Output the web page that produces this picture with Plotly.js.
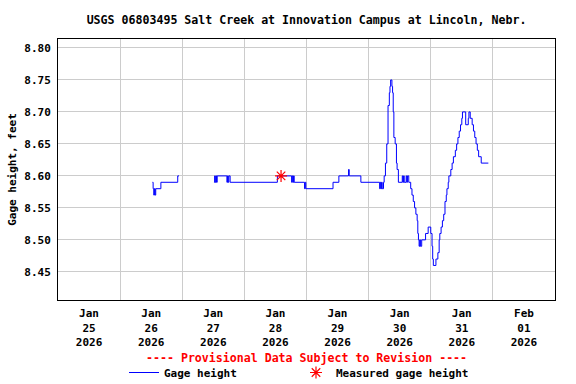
<!DOCTYPE html>
<html>
<head>
<meta charset="utf-8">
<script src="https://cdn.plot.ly/plotly-3.0.1.min.js"></script>
<style>
  html, body { margin: 0; padding: 0; background: #ffffff; }
  #chart { width: 576px; height: 384px; }
</style>
</head>
<body>
<div id="chart"></div>
<script>
// ---- Data ----
const chartTitle = "USGS 06803495 Salt Creek at Innovation Campus at Lincoln, Nebr.";
const yAxisTitle = "Gage height, feet";
const provisionalNote = "---- Provisional Data Subject to Revision ----";
const gageName = "Gage height";
const measuredName = "Measured gage height";

const xRange = ["2026-01-25 00:00", "2026-02-02 00:00"];
const yRange = [8.406, 8.814];
const yTickStart = 8.45;
const yTickStep = 0.05;

const gageTimes = [
  "2026-01-26 12:30","2026-01-26 12:45","2026-01-26 13:00","2026-01-26 13:15","2026-01-26 13:30",
  "2026-01-26 13:45","2026-01-26 15:45","2026-01-26 22:15","2026-01-26 22:45",
  "2026-01-27 05:00",
  "2026-01-27 12:15","2026-01-27 12:30","2026-01-27 12:45","2026-01-27 13:00","2026-01-27 13:15",
  "2026-01-27 13:30","2026-01-27 17:15","2026-01-27 17:30","2026-01-27 17:45","2026-01-27 18:00",
  "2026-01-27 18:30","2026-01-28 12:45","2026-01-28 18:15","2026-01-28 18:30","2026-01-28 18:45",
  "2026-01-28 19:00","2026-01-28 19:15","2026-01-28 23:15","2026-01-28 23:30","2026-01-28 23:45",
  "2026-01-29 10:15","2026-01-29 12:30","2026-01-29 16:15","2026-01-29 16:30","2026-01-29 21:00",
  "2026-01-30 04:15","2026-01-30 04:30","2026-01-30 04:45","2026-01-30 05:00","2026-01-30 05:15",
  "2026-01-30 05:45","2026-01-30 06:00","2026-01-30 06:30","2026-01-30 07:00","2026-01-30 07:30",
  "2026-01-30 08:00","2026-01-30 08:15","2026-01-30 08:30","2026-01-30 09:00","2026-01-30 09:15",
  "2026-01-30 09:30","2026-01-30 09:45","2026-01-30 10:15","2026-01-30 10:45","2026-01-30 11:00",
  "2026-01-30 11:30","2026-01-30 13:00","2026-01-30 13:15","2026-01-30 13:30","2026-01-30 13:45",
  "2026-01-30 14:30","2026-01-30 14:45","2026-01-30 15:00","2026-01-30 15:30","2026-01-30 16:15",
  "2026-01-30 16:45","2026-01-30 17:15","2026-01-30 17:45","2026-01-30 18:15","2026-01-30 18:45",
  "2026-01-30 19:00","2026-01-30 19:15","2026-01-30 19:30","2026-01-30 19:45","2026-01-30 20:00",
  "2026-01-30 20:30","2026-01-30 22:00","2026-01-30 23:00","2026-01-31 00:00","2026-01-31 00:30",
  "2026-01-31 00:45","2026-01-31 01:00","2026-01-31 02:00","2026-01-31 02:45","2026-01-31 03:15",
  "2026-01-31 03:30","2026-01-31 04:00","2026-01-31 04:30","2026-01-31 05:00","2026-01-31 05:30",
  "2026-01-31 06:00","2026-01-31 06:15","2026-01-31 06:45","2026-01-31 07:00","2026-01-31 07:45",
  "2026-01-31 08:15","2026-01-31 08:45","2026-01-31 09:30","2026-01-31 10:00","2026-01-31 10:30",
  "2026-01-31 11:00","2026-01-31 11:30","2026-01-31 12:00","2026-01-31 12:15","2026-01-31 13:30",
  "2026-01-31 14:30","2026-01-31 14:45","2026-01-31 15:15","2026-01-31 16:00","2026-01-31 16:30",
  "2026-01-31 17:00","2026-01-31 17:30","2026-01-31 18:00","2026-01-31 18:30","2026-01-31 19:30",
  "2026-01-31 22:15"
];
const gageValues = [
  8.59,8.58,8.57,8.58,8.57,
  8.58,8.59,8.60,8.60,
  null,
  8.59,8.60,8.59,8.60,8.59,
  8.60,8.59,8.60,8.59,8.60,
  8.59,8.60,8.59,8.60,8.59,
  8.60,8.59,8.58,8.59,8.58,
  8.59,8.60,8.61,8.60,8.59,
  8.58,8.59,8.58,8.59,8.58,
  8.59,8.60,8.62,8.65,8.71,
  8.73,8.74,8.75,8.74,8.73,
  8.70,8.66,8.65,8.62,8.61,
  8.59,8.60,8.59,8.60,8.59,
  8.60,8.59,8.60,8.59,8.58,
  8.57,8.56,8.55,8.54,8.53,
  8.51,8.50,8.49,8.50,8.49,
  8.50,8.51,8.52,8.51,8.49,
  8.47,8.46,8.47,8.48,8.50,
  8.51,8.52,8.53,8.54,8.56,
  8.57,8.58,8.59,8.60,8.61,
  8.62,8.63,8.64,8.65,8.66,
  8.67,8.68,8.69,8.70,8.68,
  8.69,8.70,8.69,8.68,8.67,
  8.66,8.65,8.64,8.63,8.62,
  8.62
];

const measuredTimes = ["2026-01-28 14:10"];
const measuredValues = [8.60];

// ---- Styles ----
const monoFont = "DejaVu Sans Mono, Liberation Mono, monospace";

const traces = [
  {
    type: "scatter",
    mode: "lines",
    name: gageName,
    x: gageTimes,
    y: gageValues,
    connectgaps: false,
    line: { color: "#0000ff", width: 1, shape: "hv" },
    hoverinfo: "skip"
  },
  {
    type: "scatter",
    mode: "markers",
    name: measuredName,
    x: measuredTimes,
    y: measuredValues,
    marker: { symbol: "asterisk-open", size: 10, color: "#ff0000", line: { color: "#ff0000", width: 1.2 } },
    hoverinfo: "skip"
  }
];

const layout = {
  width: 576,
  height: 384,
  margin: { l: 58, r: 21, t: 39, b: 84, pad: 0, autoexpand: false },
  paper_bgcolor: "#ffffff",
  plot_bgcolor: "#ffffff",
  font: { family: monoFont, size: 11, color: "#000000", weight: "bold" },
  title: {
    text: chartTitle,
    font: { family: monoFont, size: 11.6, color: "#000000", weight: "bold" },
    x: 0.5, xref: "paper", xanchor: "center",
    y: 1 - 20 / 384, yanchor: "middle"
  },
  xaxis: {
    type: "date",
    range: xRange,
    tick0: xRange[0],
    dtick: 86400000,
    ticklabelmode: "period",
    tickformat: "%b<br>%d<br>%Y",
    ticks: "",
    ticklabelstandoff: 3,
    showgrid: true,
    gridcolor: "#cccccc",
    gridwidth: 1,
    showline: true,
    linecolor: "#000000",
    linewidth: 1,
    mirror: true,
    zeroline: false,
    automargin: false,
    tickfont: { family: monoFont, size: 11, color: "#000000", weight: "bold" },
    fixedrange: true
  },
  yaxis: {
    range: yRange,
    tick0: yTickStart,
    dtick: yTickStep,
    tickformat: ".2f",
    ticks: "",
    showgrid: true,
    gridcolor: "#cccccc",
    gridwidth: 1,
    showline: true,
    linecolor: "#000000",
    linewidth: 1,
    mirror: true,
    zeroline: false,
    automargin: false,
    ticklabelstandoff: 4,
    tickfont: { family: monoFont, size: 11, color: "#000000", weight: "bold" },
    title: {
      text: yAxisTitle,
      font: { family: monoFont, size: 11, color: "#000000", weight: "bold" },
      standoff: 5
    },
    fixedrange: true
  },
  showlegend: true,
  legend: {
    orientation: "h",
    xref: "container", yref: "container",
    x: 124 / 576, xanchor: "left",
    y: 1 - 358 / 384, yanchor: "top",
    font: { family: monoFont, size: 11, color: "#000000", weight: "bold" },
    entrywidth: 127,
    entrywidthmode: "pixels",
    bgcolor: "rgba(0,0,0,0)",
    itemclick: false,
    itemdoubleclick: false
  },
  annotations: [
    {
      text: provisionalNote,
      xref: "paper", yref: "paper",
      x: 0.5, xanchor: "center",
      y: -0.222, yanchor: "middle",
      showarrow: false,
      font: { family: monoFont, size: 11.6, color: "#ff0000", weight: "bold" }
    }
  ]
};

Plotly.newPlot("chart", traces, layout, { staticPlot: true, displayModeBar: false });
</script>
</body>
</html>
